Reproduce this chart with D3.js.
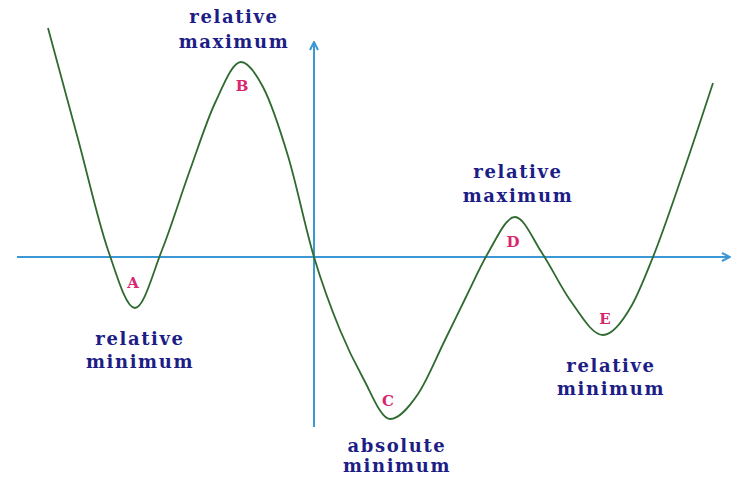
<!DOCTYPE html>
<html>
<head>
<meta charset="utf-8">
<script src="https://cdn.jsdelivr.net/npm/d3@7"></script>
<style>
  html, body { margin: 0; padding: 0; background: #fff; }
  svg { display: block; }
  .note { font-family: "DejaVu Serif", serif; font-weight: bold; fill: #1d1d86; font-size: 18px; letter-spacing: 1.6px; }
  .pt { font-family: "DejaVu Serif", serif; font-weight: bold; fill: #d8276f; font-size: 15px; }
</style>
</head>
<body>
<div id="chart"></div>
<script>
// curve (1 unit = 50px, origin where the axes cross)
const curveX = [-5.32, -4.72, -4.12, -3.58, -3.04, -2.48, -1.98, -1.46, -1.02, -0.52, 0,
                0.52, 0.98, 1.52, 2.08, 2.62, 3.04, 3.48, 4.02, 4.56, 5.12, 5.78, 6.36, 6.78, 7.38, 7.98];
const curveY = [4.58, 2.36, 0.14, -1.02, 0.14, 1.74, 3.08, 3.90, 3.40, 2.02, 0,
                -1.46, -2.42, -3.24, -2.74, -1.66, -0.80, 0.08, 0.80, 0.08, -0.86, -1.56, -0.96, 0, 1.68, 3.48];

// the five marked points
const pointNames = ["A", "B", "C", "D", "E"];
const pointX = [-3.62, -1.44, 1.48, 3.98, 5.82];
const pointY = [-0.62, 3.32, -2.98, 0.20, -1.34];

// two-line notes
const noteLine1 = ["relative", "relative", "absolute", "relative", "relative"];
const noteLine2 = ["minimum", "maximum", "minimum", "maximum", "minimum"];
const noteX = [-3.48, -1.6, 1.66, 4.08, 5.94];
const noteY1 = [-1.76, 4.68, -3.90, 1.58, -2.30];
const noteY2 = [-2.22, 4.18, -4.30, 1.10, -2.76];

const xAxisRange = [-5.94, 8.32];
const yAxisRange = [-3.4, 4.3];

const width = 741, height = 483;

const x = d3.scaleLinear().domain([-6, 9]).range([14, 764]);
const y = d3.scaleLinear().domain([-4, 5]).range([457, 7]);

const svg = d3.select("#chart").append("svg")
    .attr("width", width)
    .attr("height", height);

svg.append("defs").append("marker")
    .attr("id", "arrow")
    .attr("viewBox", "0 0 10 10")
    .attr("refX", 9)
    .attr("refY", 5)
    .attr("markerWidth", 10)
    .attr("markerHeight", 10)
    .attr("markerUnits", "userSpaceOnUse")
    .attr("orient", "auto")
  .append("path")
    .attr("d", "M1,1 L9,5 L1,9")
    .attr("fill", "none")
    .attr("stroke", "#3b98d4")
    .attr("stroke-width", 2);

// axes
svg.append("line")
    .attr("x1", x(xAxisRange[0])).attr("x2", x(xAxisRange[1]))
    .attr("y1", y(0)).attr("y2", y(0))
    .attr("stroke", "#3b98d4")
    .attr("stroke-width", 2)
    .attr("marker-end", "url(#arrow)");

svg.append("line")
    .attr("x1", x(0)).attr("x2", x(0))
    .attr("y1", y(yAxisRange[0])).attr("y2", y(yAxisRange[1]))
    .attr("stroke", "#3b98d4")
    .attr("stroke-width", 2)
    .attr("marker-end", "url(#arrow)");

// the function
const pts = curveX.map((d, i) => [d, curveY[i]]);
const line = d3.line()
    .x(d => x(d[0]))
    .y(d => y(d[1]))
    .curve(d3.curveMonotoneX);

svg.append("path")
    .datum(pts)
    .attr("d", line)
    .attr("fill", "none")
    .attr("stroke", "#2f6a30")
    .attr("stroke-width", 1.8);

svg.selectAll("text.pt")
    .data(pointNames)
    .join("text")
    .attr("class", "pt")
    .attr("text-anchor", "middle")
    .attr("x", (d, i) => x(pointX[i]))
    .attr("y", (d, i) => y(pointY[i]))
    .text(d => d);

noteLine1.forEach((t, i) => {
    const g = svg.append("text")
        .attr("class", "note")
        .attr("text-anchor", "middle");
    g.append("tspan").attr("x", x(noteX[i])).attr("y", y(noteY1[i])).text(t);
    g.append("tspan").attr("x", x(noteX[i])).attr("y", y(noteY2[i])).text(noteLine2[i]);
});
</script>
</body>
</html>
